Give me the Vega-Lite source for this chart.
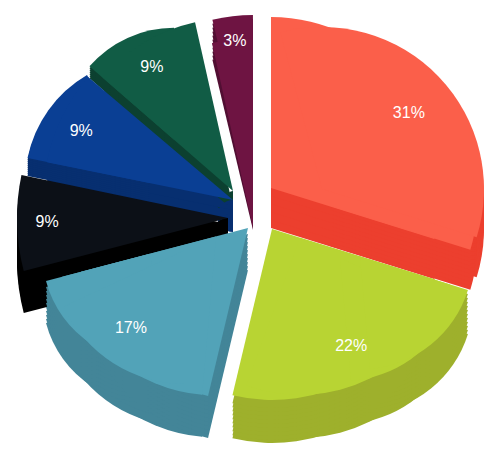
{
  "$schema": "https://vega.github.io/schema/vega-lite/v6.json",
  "width": 500,
  "height": 464,
  "padding": 0,
  "autosize": "none",
  "background": "white",
  "view": {"stroke": null},
  "data": {"values": [
    {"slice": "red", "rank": 1, "share": 31, "label": "31%"},
    {"slice": "lime", "rank": 2, "share": 22, "label": "22%"},
    {"slice": "teal", "rank": 3, "share": 17, "label": "17%"},
    {"slice": "black", "rank": 4, "share": 9, "label": "9%"},
    {"slice": "blue", "rank": 5, "share": 9, "label": "9%"},
    {"slice": "green", "rank": 6, "share": 9, "label": "9%"},
    {"slice": "purple", "rank": 7, "share": 3, "label": "3%"}
  ]},
  "transform": [
    {"stack": "share", "sort": [{"field": "rank", "order": "ascending"}], "as": ["a0", "a1"]},
    {"calculate": "(datum.a0 + datum.a1) / 2", "as": "mid"}
  ],
  "resolve": {"scale": {"theta": "independent"}},
  "layer": [
    {"transform": [{"filter": "datum.slice == 'red'"}],
     "encoding": {"theta": {"field": "a0", "type": "quantitative", "scale": {"domain": [0, 31], "range": [-0.26, 1.873]}}, "theta2": {"field": "a1"}},
     "layer": [
      {"mark": {"type": "arc", "outerRadius": 162, "xOffset": 72, "yOffset": -3, "fill": "#ec3f2e"}},
      {"mark": {"type": "arc", "outerRadius": 162, "xOffset": 72, "yOffset": -11, "fill": "#ec3f2e"}},
      {"mark": {"type": "arc", "outerRadius": 162, "xOffset": 72, "yOffset": -19, "fill": "#ec3f2e"}},
      {"mark": {"type": "arc", "outerRadius": 162, "xOffset": 72, "yOffset": -27, "fill": "#ec3f2e"}},
      {"mark": {"type": "arc", "outerRadius": 162, "xOffset": 72, "yOffset": -35, "fill": "#ec3f2e"}}
    ]},
    {"transform": [{"filter": "datum.slice == 'red'"}],
     "encoding": {"theta": {"field": "a0", "type": "quantitative", "scale": {"domain": [0, 31], "range": [0, 1.873]}}, "theta2": {"field": "a1"}},
     "layer": [
      {"mark": {"type": "arc", "outerRadius": 171, "xOffset": 21, "yOffset": -4, "fill": "#ec3f2e"}},
      {"mark": {"type": "arc", "outerRadius": 171, "xOffset": 21, "yOffset": -12, "fill": "#ec3f2e"}},
      {"mark": {"type": "arc", "outerRadius": 171, "xOffset": 21, "yOffset": -20, "fill": "#ec3f2e"}},
      {"mark": {"type": "arc", "outerRadius": 171, "xOffset": 21, "yOffset": -28, "fill": "#ec3f2e"}},
      {"mark": {"type": "arc", "outerRadius": 171, "xOffset": 21, "yOffset": -36, "fill": "#ec3f2e"}},
      {"mark": {"type": "arc", "outerRadius": 147, "xOffset": 80, "yOffset": 14, "fill": "#ec3f2e"}},
      {"mark": {"type": "arc", "outerRadius": 147, "xOffset": 80, "yOffset": 10, "fill": "#ec3f2e"}},
      {"mark": {"type": "arc", "outerRadius": 147, "xOffset": 80, "yOffset": 6, "fill": "#ec3f2e"}},
      {"mark": {"type": "arc", "outerRadius": 147, "xOffset": 80, "yOffset": 2, "fill": "#ec3f2e"}},
      {"mark": {"type": "arc", "outerRadius": 147, "xOffset": 80, "yOffset": -2, "fill": "#ec3f2e"}},
      {"mark": {"type": "arc", "outerRadius": 147, "xOffset": 80, "yOffset": -6, "fill": "#ec3f2e"}},
      {"mark": {"type": "arc", "outerRadius": 147, "xOffset": 80, "yOffset": -10, "fill": "#ec3f2e"}},
      {"mark": {"type": "arc", "outerRadius": 147, "xOffset": 80, "yOffset": -14, "fill": "#ec3f2e"}},
      {"mark": {"type": "arc", "outerRadius": 147, "xOffset": 80, "yOffset": -18, "fill": "#ec3f2e"}},
      {"mark": {"type": "arc", "outerRadius": 147, "xOffset": 80, "yOffset": -22, "fill": "#ec3f2e"}},
      {"mark": {"type": "arc", "outerRadius": 171, "xOffset": 21, "yOffset": -44, "fill": "#fb5f4a"}},
      {"mark": {"type": "arc", "outerRadius": 147, "xOffset": 80, "yOffset": -26, "fill": "#fb5f4a"}}
    ]},
    {"transform": [{"filter": "datum.slice == 'red'"}],
     "encoding": {"theta": {"field": "a0", "type": "quantitative", "scale": {"domain": [0, 31], "range": [-0.26, 1.873]}}, "theta2": {"field": "a1"}},
     "mark": {"type": "arc", "outerRadius": 162, "xOffset": 72, "yOffset": -43, "fill": "#fb5f4a"}},

    {"transform": [{"filter": "datum.slice == 'purple'"}],
     "encoding": {"theta": {"field": "a0", "type": "quantitative", "scale": {"domain": [97, 100], "range": [6.049, 6.283]}}, "theta2": {"field": "a1"}},
     "layer": [
      {"mark": {"type": "arc", "outerRadius": 175, "xOffset": 3, "yOffset": -2, "fill": "#520f33"}},
      {"mark": {"type": "arc", "outerRadius": 175, "xOffset": 3, "yOffset": -6, "fill": "#520f33"}},
      {"mark": {"type": "arc", "outerRadius": 175, "xOffset": 3, "yOffset": -10, "fill": "#520f33"}},
      {"mark": {"type": "arc", "outerRadius": 175, "xOffset": 3, "yOffset": -14, "fill": "#520f33"}},
      {"mark": {"type": "arc", "outerRadius": 175, "xOffset": 3, "yOffset": -18, "fill": "#520f33"}},
      {"mark": {"type": "arc", "outerRadius": 175, "xOffset": 3, "yOffset": -22, "fill": "#520f33"}},
      {"mark": {"type": "arc", "outerRadius": 175, "xOffset": 3, "yOffset": -26, "fill": "#520f33"}},
      {"mark": {"type": "arc", "outerRadius": 175, "xOffset": 3, "yOffset": -30, "fill": "#520f33"}},
      {"mark": {"type": "arc", "outerRadius": 175, "xOffset": 3, "yOffset": -34, "fill": "#520f33"}},
      {"mark": {"type": "arc", "outerRadius": 175, "xOffset": 3, "yOffset": -38, "fill": "#520f33"}},
      {"mark": {"type": "arc", "outerRadius": 175, "xOffset": 3, "yOffset": -42, "fill": "#6e1442"}}
    ]},
    {"transform": [{"filter": "datum.slice == 'purple'"}],
     "encoding": {"theta": {"field": "a0", "type": "quantitative", "scale": {"domain": [97, 100], "range": [6.065, 6.283]}}, "theta2": {"field": "a1"}},
     "mark": {"type": "arc", "outerRadius": 189.5, "xOffset": 3, "yOffset": -4, "fill": "#6e1442"}},

    {"transform": [{"filter": "datum.slice == 'green'"}], "mark": {"type": "arc", "outerRadius": 6, "xOffset": -17, "yOffset": -35, "fill": "#0c4030"},
     "encoding": {"theta": {"field": "a0", "type": "quantitative", "scale": {"domain": [88, 97], "range": [3.1416, 6.2832]}}, "theta2": {"field": "a1"}}},
    {"transform": [{"filter": "datum.slice == 'green'"}],
     "encoding": {"theta": {"field": "a0", "type": "quantitative", "scale": {"domain": [88, 97], "range": [5.428, 6.062]}}, "theta2": {"field": "a1"}},
     "layer": [
      {"mark": {"type": "arc", "outerRadius": 173, "xOffset": -17, "yOffset": -9, "fill": "#0c4030"}},
      {"mark": {"type": "arc", "outerRadius": 173, "xOffset": -17, "yOffset": -25, "fill": "#0c4030"}}
    ]},
    {"transform": [{"filter": "datum.slice == 'green'"}],
     "encoding": {"theta": {"field": "a0", "type": "quantitative", "scale": {"domain": [88, 97], "range": [5.428, 6.283]}}, "theta2": {"field": "a1"}},
     "layer": [
      {"mark": {"type": "arc", "outerRadius": 112, "xOffset": -76, "yOffset": -80.2, "fill": "#0c4030"}},
      {"mark": {"type": "arc", "outerRadius": 112, "xOffset": -76, "yOffset": -82.2, "fill": "#0c4030"}},
      {"mark": {"type": "arc", "outerRadius": 112, "xOffset": -76, "yOffset": -84.2, "fill": "#0c4030"}},
      {"mark": {"type": "arc", "outerRadius": 112, "xOffset": -76, "yOffset": -86.2, "fill": "#0c4030"}},
      {"mark": {"type": "arc", "outerRadius": 112, "xOffset": -76, "yOffset": -88.2, "fill": "#0c4030"}},
      {"mark": {"type": "arc", "outerRadius": 112, "xOffset": -76, "yOffset": -90.2, "fill": "#0c4030"}},
      {"mark": {"type": "arc", "outerRadius": 112, "xOffset": -76, "yOffset": -92.2, "fill": "#115c45"}}
    ]},
    {"transform": [{"filter": "datum.slice == 'green'"}],
     "encoding": {"theta": {"field": "a0", "type": "quantitative", "scale": {"domain": [88, 97], "range": [5.428, 6.062]}}, "theta2": {"field": "a1"}},
     "mark": {"type": "arc", "outerRadius": 173, "xOffset": -17, "yOffset": -41, "fill": "#115c45"}},

    {"transform": [{"filter": "datum.slice == 'blue'"}], "mark": {"type": "arc", "outerRadius": 16, "xOffset": -17, "yOffset": -16, "fill": "#072f70"},
     "encoding": {"theta": {"field": "a0", "type": "quantitative", "scale": {"domain": [79, 88], "range": [3.1416, 6.2832]}}, "theta2": {"field": "a1"}}},
    {"transform": [{"filter": "datum.slice == 'blue'"}],
     "encoding": {"theta": {"field": "a0", "type": "quantitative", "scale": {"domain": [79, 88], "range": [4.913, 5.416]}}, "theta2": {"field": "a1"}},
     "layer": [
      {"mark": {"type": "arc", "outerRadius": 190, "xOffset": -17, "yOffset": -12, "fill": "#072f70"}},
      {"mark": {"type": "arc", "outerRadius": 190, "xOffset": -17, "yOffset": -22, "fill": "#072f70"}}
    ]},
    {"transform": [{"filter": "datum.slice == 'blue'"}],
     "encoding": {"theta": {"field": "a0", "type": "quantitative", "scale": {"domain": [79, 88], "range": [4.913, 5.755]}}, "theta2": {"field": "a1"}},
     "layer": [
      {"mark": {"type": "arc", "outerRadius": 125, "xOffset": -100, "yOffset": -31, "fill": "#072f70"}},
      {"mark": {"type": "arc", "outerRadius": 125, "xOffset": -100, "yOffset": -33, "fill": "#072f70"}},
      {"mark": {"type": "arc", "outerRadius": 125, "xOffset": -100, "yOffset": -35, "fill": "#072f70"}},
      {"mark": {"type": "arc", "outerRadius": 125, "xOffset": -100, "yOffset": -37, "fill": "#072f70"}},
      {"mark": {"type": "arc", "outerRadius": 125, "xOffset": -100, "yOffset": -39, "fill": "#072f70"}},
      {"mark": {"type": "arc", "outerRadius": 125, "xOffset": -100, "yOffset": -41, "fill": "#072f70"}},
      {"mark": {"type": "arc", "outerRadius": 125, "xOffset": -100, "yOffset": -43, "fill": "#072f70"}},
      {"mark": {"type": "arc", "outerRadius": 125, "xOffset": -100, "yOffset": -45, "fill": "#072f70"}},
      {"mark": {"type": "arc", "outerRadius": 125, "xOffset": -100, "yOffset": -47, "fill": "#072f70"}},
      {"mark": {"type": "arc", "outerRadius": 125, "xOffset": -100, "yOffset": -49, "fill": "#0a3f94"}}
    ]},
    {"transform": [{"filter": "datum.slice == 'blue'"}],
     "encoding": {"theta": {"field": "a0", "type": "quantitative", "scale": {"domain": [79, 88], "range": [4.913, 5.416]}}, "theta2": {"field": "a1"}},
     "mark": {"type": "arc", "outerRadius": 190, "xOffset": -17, "yOffset": -32, "fill": "#0a3f94"}},

    {"transform": [{"filter": "datum.slice == 'black'"}], "mark": {"type": "arc", "outerRadius": 16, "xOffset": -22, "yOffset": 2, "fill": "#000000"},
     "encoding": {"theta": {"field": "a0", "type": "quantitative", "scale": {"domain": [70, 79], "range": [3.1416, 6.2832]}}, "theta2": {"field": "a1"}}},
    {"transform": [{"filter": "datum.slice == 'black'"}],
     "encoding": {"theta": {"field": "a0", "type": "quantitative", "scale": {"domain": [70, 79], "range": [4.459, 4.918]}}, "theta2": {"field": "a1"}},
     "layer": [
      {"mark": {"type": "arc", "outerRadius": 211, "xOffset": -22, "yOffset": 28, "fill": "#000000"}},
      {"mark": {"type": "arc", "outerRadius": 211, "xOffset": -22, "yOffset": 24, "fill": "#000000"}},
      {"mark": {"type": "arc", "outerRadius": 211, "xOffset": -22, "yOffset": 20, "fill": "#000000"}},
      {"mark": {"type": "arc", "outerRadius": 211, "xOffset": -22, "yOffset": 16, "fill": "#000000"}},
      {"mark": {"type": "arc", "outerRadius": 211, "xOffset": -22, "yOffset": 12, "fill": "#000000"}},
      {"mark": {"type": "arc", "outerRadius": 211, "xOffset": -22, "yOffset": 8, "fill": "#000000"}},
      {"mark": {"type": "arc", "outerRadius": 211, "xOffset": -22, "yOffset": 4, "fill": "#000000"}},
      {"mark": {"type": "arc", "outerRadius": 211, "xOffset": -22, "yOffset": 0, "fill": "#000000"}},
      {"mark": {"type": "arc", "outerRadius": 211, "xOffset": -22, "yOffset": -4, "fill": "#000000"}},
      {"mark": {"type": "arc", "outerRadius": 211, "xOffset": -22, "yOffset": -8, "fill": "#000000"}},
      {"mark": {"type": "arc", "outerRadius": 211, "xOffset": -22, "yOffset": -14, "fill": "#0c1017"}}
    ]},

    {"transform": [{"filter": "datum.slice == 'teal'"}],
     "encoding": {"theta": {"field": "a0", "type": "quantitative", "scale": {"domain": [53, 70], "range": [3.229, 4.456]}}, "theta2": {"field": "a1"}},
     "layer": [
      {"mark": {"type": "arc", "outerRadius": 159, "xOffset": -34, "yOffset": 46.4, "fill": "#438598"}},
      {"mark": {"type": "arc", "outerRadius": 159, "xOffset": -34, "yOffset": 36.4, "fill": "#438598"}},
      {"mark": {"type": "arc", "outerRadius": 159, "xOffset": -34, "yOffset": 28.4, "fill": "#438598"}},
      {"mark": {"type": "arc", "outerRadius": 159, "xOffset": -34, "yOffset": 20.4, "fill": "#438598"}},
      {"mark": {"type": "arc", "outerRadius": 159, "xOffset": -34, "yOffset": 12.4, "fill": "#438598"}}
    ]},
    {"transform": [{"filter": "datum.slice == 'teal'"}],
     "encoding": {"theta": {"field": "a0", "type": "quantitative", "scale": {"domain": [53, 70], "range": [3.1416, 4.276]}}, "theta2": {"field": "a1"}},
     "layer": [
      {"mark": {"type": "arc", "outerRadius": 134, "xOffset": -65, "yOffset": 60, "fill": "#438598"}},
      {"mark": {"type": "arc", "outerRadius": 134, "xOffset": -65, "yOffset": 52, "fill": "#438598"}},
      {"mark": {"type": "arc", "outerRadius": 134, "xOffset": -65, "yOffset": 44, "fill": "#438598"}},
      {"mark": {"type": "arc", "outerRadius": 134, "xOffset": -65, "yOffset": 36, "fill": "#438598"}},
      {"mark": {"type": "arc", "outerRadius": 134, "xOffset": -65, "yOffset": 28, "fill": "#438598"}}
    ]},
    {"transform": [{"filter": "datum.slice == 'teal'"}],
     "encoding": {"theta": {"field": "a0", "type": "quantitative", "scale": {"domain": [53, 70], "range": [2.967, 4.456]}}, "theta2": {"field": "a1"}},
     "layer": [
      {"mark": {"type": "arc", "outerRadius": 107.5, "xOffset": -100, "yOffset": 63.7, "fill": "#438598"}},
      {"mark": {"type": "arc", "outerRadius": 107.5, "xOffset": -100, "yOffset": 59.7, "fill": "#438598"}},
      {"mark": {"type": "arc", "outerRadius": 107.5, "xOffset": -100, "yOffset": 55.7, "fill": "#438598"}},
      {"mark": {"type": "arc", "outerRadius": 107.5, "xOffset": -100, "yOffset": 51.7, "fill": "#438598"}},
      {"mark": {"type": "arc", "outerRadius": 107.5, "xOffset": -100, "yOffset": 47.7, "fill": "#438598"}},
      {"mark": {"type": "arc", "outerRadius": 107.5, "xOffset": -100, "yOffset": 43.7, "fill": "#438598"}},
      {"mark": {"type": "arc", "outerRadius": 107.5, "xOffset": -100, "yOffset": 39.7, "fill": "#438598"}},
      {"mark": {"type": "arc", "outerRadius": 107.5, "xOffset": -100, "yOffset": 35.7, "fill": "#438598"}},
      {"mark": {"type": "arc", "outerRadius": 107.5, "xOffset": -100, "yOffset": 31.7, "fill": "#438598"}},
      {"mark": {"type": "arc", "outerRadius": 107.5, "xOffset": -100, "yOffset": 27.7, "fill": "#438598"}}
    ]},
    {"transform": [{"filter": "datum.slice == 'teal'"}],
     "encoding": {"theta": {"field": "a0", "type": "quantitative", "scale": {"domain": [53, 70], "range": [3.375, 4.456]}}, "theta2": {"field": "a1"}},
     "layer": [
      {"mark": {"type": "arc", "outerRadius": 172.7, "xOffset": -2, "yOffset": 38, "fill": "#438598"}},
      {"mark": {"type": "arc", "outerRadius": 172.7, "xOffset": -2, "yOffset": 34, "fill": "#438598"}},
      {"mark": {"type": "arc", "outerRadius": 172.7, "xOffset": -2, "yOffset": 30, "fill": "#438598"}},
      {"mark": {"type": "arc", "outerRadius": 172.7, "xOffset": -2, "yOffset": 26, "fill": "#438598"}},
      {"mark": {"type": "arc", "outerRadius": 172.7, "xOffset": -2, "yOffset": 22, "fill": "#438598"}},
      {"mark": {"type": "arc", "outerRadius": 172.7, "xOffset": -2, "yOffset": 18, "fill": "#438598"}},
      {"mark": {"type": "arc", "outerRadius": 172.7, "xOffset": -2, "yOffset": 14, "fill": "#438598"}},
      {"mark": {"type": "arc", "outerRadius": 172.7, "xOffset": -2, "yOffset": 10, "fill": "#438598"}},
      {"mark": {"type": "arc", "outerRadius": 172.7, "xOffset": -2, "yOffset": 6, "fill": "#438598"}},
      {"mark": {"type": "arc", "outerRadius": 172.7, "xOffset": -2, "yOffset": 2, "fill": "#438598"}},
      {"mark": {"type": "arc", "outerRadius": 172.7, "xOffset": -2, "yOffset": -4, "fill": "#52a3b8"}}
    ]},
    {"transform": [{"filter": "datum.slice == 'teal'"}],
     "encoding": {"theta": {"field": "a0", "type": "quantitative", "scale": {"domain": [53, 70], "range": [3.229, 4.456]}}, "theta2": {"field": "a1"}},
     "mark": {"type": "arc", "outerRadius": 159, "xOffset": -34, "yOffset": 4.4, "fill": "#52a3b8"}},
    {"transform": [{"filter": "datum.slice == 'teal'"}],
     "encoding": {"theta": {"field": "a0", "type": "quantitative", "scale": {"domain": [53, 70], "range": [2.967, 4.456]}}, "theta2": {"field": "a1"}},
     "mark": {"type": "arc", "outerRadius": 107.5, "xOffset": -100, "yOffset": 21.7, "fill": "#52a3b8"}},
    {"transform": [{"filter": "datum.slice == 'teal'"}],
     "encoding": {"theta": {"field": "a0", "type": "quantitative", "scale": {"domain": [53, 70], "range": [3.1416, 4.276]}}, "theta2": {"field": "a1"}},
     "mark": {"type": "arc", "outerRadius": 134, "xOffset": -65, "yOffset": 18, "fill": "#52a3b8"}},

    {"transform": [{"filter": "datum.slice == 'lime'"}],
     "encoding": {"theta": {"field": "a0", "type": "quantitative", "scale": {"domain": [31, 53], "range": [1.871, 3.49]}}, "theta2": {"field": "a1"}},
     "layer": [
      {"mark": {"type": "arc", "outerRadius": 157, "xOffset": 50, "yOffset": 49, "fill": "#9eb02c"}},
      {"mark": {"type": "arc", "outerRadius": 157, "xOffset": 50, "yOffset": 38, "fill": "#9eb02c"}},
      {"mark": {"type": "arc", "outerRadius": 157, "xOffset": 50, "yOffset": 30, "fill": "#9eb02c"}},
      {"mark": {"type": "arc", "outerRadius": 157, "xOffset": 50, "yOffset": 22, "fill": "#9eb02c"}},
      {"mark": {"type": "arc", "outerRadius": 157, "xOffset": 50, "yOffset": 14, "fill": "#9eb02c"}}
    ]},
    {"transform": [{"filter": "datum.slice == 'lime'"}],
     "encoding": {"theta": {"field": "a0", "type": "quantitative", "scale": {"domain": [31, 53], "range": [2.007, 3.054]}}, "theta2": {"field": "a1"}},
     "layer": [
      {"mark": {"type": "arc", "outerRadius": 123.5, "xOffset": 90, "yOffset": 69, "fill": "#9eb02c"}},
      {"mark": {"type": "arc", "outerRadius": 123.5, "xOffset": 90, "yOffset": 58, "fill": "#9eb02c"}},
      {"mark": {"type": "arc", "outerRadius": 123.5, "xOffset": 90, "yOffset": 50, "fill": "#9eb02c"}},
      {"mark": {"type": "arc", "outerRadius": 123.5, "xOffset": 90, "yOffset": 42, "fill": "#9eb02c"}},
      {"mark": {"type": "arc", "outerRadius": 123.5, "xOffset": 90, "yOffset": 34, "fill": "#9eb02c"}}
    ]},
    {"transform": [{"filter": "datum.slice == 'lime'"}],
     "encoding": {"theta": {"field": "a0", "type": "quantitative", "scale": {"domain": [31, 53], "range": [1.871, 3.054]}}, "theta2": {"field": "a1"}},
     "layer": [
      {"mark": {"type": "arc", "outerRadius": 113, "xOffset": 110, "yOffset": 68.5, "fill": "#9eb02c"}},
      {"mark": {"type": "arc", "outerRadius": 113, "xOffset": 110, "yOffset": 64.5, "fill": "#9eb02c"}},
      {"mark": {"type": "arc", "outerRadius": 113, "xOffset": 110, "yOffset": 60.5, "fill": "#9eb02c"}},
      {"mark": {"type": "arc", "outerRadius": 113, "xOffset": 110, "yOffset": 56.5, "fill": "#9eb02c"}},
      {"mark": {"type": "arc", "outerRadius": 113, "xOffset": 110, "yOffset": 52.5, "fill": "#9eb02c"}},
      {"mark": {"type": "arc", "outerRadius": 113, "xOffset": 110, "yOffset": 48.5, "fill": "#9eb02c"}},
      {"mark": {"type": "arc", "outerRadius": 113, "xOffset": 110, "yOffset": 44.5, "fill": "#9eb02c"}},
      {"mark": {"type": "arc", "outerRadius": 113, "xOffset": 110, "yOffset": 40.5, "fill": "#9eb02c"}},
      {"mark": {"type": "arc", "outerRadius": 113, "xOffset": 110, "yOffset": 36.5, "fill": "#9eb02c"}},
      {"mark": {"type": "arc", "outerRadius": 113, "xOffset": 110, "yOffset": 32.5, "fill": "#9eb02c"}},
      {"mark": {"type": "arc", "outerRadius": 113, "xOffset": 110, "yOffset": 28.5, "fill": "#9eb02c"}}
    ]},
    {"transform": [{"filter": "datum.slice == 'lime'"}],
     "encoding": {"theta": {"field": "a0", "type": "quantitative", "scale": {"domain": [31, 53], "range": [1.871, 3.375]}}, "theta2": {"field": "a1"}},
     "layer": [
      {"mark": {"type": "arc", "outerRadius": 171, "xOffset": 22, "yOffset": 40, "fill": "#9eb02c"}},
      {"mark": {"type": "arc", "outerRadius": 171, "xOffset": 22, "yOffset": 37, "fill": "#9eb02c"}},
      {"mark": {"type": "arc", "outerRadius": 171, "xOffset": 22, "yOffset": 33, "fill": "#9eb02c"}},
      {"mark": {"type": "arc", "outerRadius": 171, "xOffset": 22, "yOffset": 29, "fill": "#9eb02c"}},
      {"mark": {"type": "arc", "outerRadius": 171, "xOffset": 22, "yOffset": 25, "fill": "#9eb02c"}},
      {"mark": {"type": "arc", "outerRadius": 171, "xOffset": 22, "yOffset": 21, "fill": "#9eb02c"}},
      {"mark": {"type": "arc", "outerRadius": 171, "xOffset": 22, "yOffset": 17, "fill": "#9eb02c"}},
      {"mark": {"type": "arc", "outerRadius": 171, "xOffset": 22, "yOffset": 13, "fill": "#9eb02c"}},
      {"mark": {"type": "arc", "outerRadius": 171, "xOffset": 22, "yOffset": 9, "fill": "#9eb02c"}},
      {"mark": {"type": "arc", "outerRadius": 171, "xOffset": 22, "yOffset": 5, "fill": "#9eb02c"}},
      {"mark": {"type": "arc", "outerRadius": 171, "xOffset": 22, "yOffset": -3, "fill": "#b8d433"}}
    ]},
    {"transform": [{"filter": "datum.slice == 'lime'"}],
     "encoding": {"theta": {"field": "a0", "type": "quantitative", "scale": {"domain": [31, 53], "range": [1.871, 3.49]}}, "theta2": {"field": "a1"}},
     "mark": {"type": "arc", "outerRadius": 157, "xOffset": 50, "yOffset": 6, "fill": "#b8d433"}},
    {"transform": [{"filter": "datum.slice == 'lime'"}],
     "encoding": {"theta": {"field": "a0", "type": "quantitative", "scale": {"domain": [31, 53], "range": [2.007, 3.054]}}, "theta2": {"field": "a1"}},
     "mark": {"type": "arc", "outerRadius": 123.5, "xOffset": 90, "yOffset": 26, "fill": "#b8d433"}},
    {"transform": [{"filter": "datum.slice == 'lime'"}],
     "encoding": {"theta": {"field": "a0", "type": "quantitative", "scale": {"domain": [31, 53], "range": [1.871, 3.054]}}, "theta2": {"field": "a1"}},
     "mark": {"type": "arc", "outerRadius": 113, "xOffset": 110, "yOffset": 24.5, "fill": "#b8d433"}},

    {"transform": [{"filter": "datum.slice == 'red'"}], "mark": {"type": "text", "radius": 157, "xOffset": 29, "yOffset": -31, "font": "Liberation Sans", "fontSize": 16, "fill": "white"}, "encoding": {"theta": {"field": "mid", "type": "quantitative", "scale": {"domain": [0, 100]}}, "text": {"field": "label"}}},
    {"transform": [{"filter": "datum.slice == 'lime'"}], "mark": {"type": "text", "radius": 154, "xOffset": 27, "yOffset": -21, "font": "Liberation Sans", "fontSize": 16, "fill": "white"}, "encoding": {"theta": {"field": "mid", "type": "quantitative", "scale": {"domain": [0, 100]}}, "text": {"field": "label"}}},
    {"transform": [{"filter": "datum.slice == 'teal'"}], "mark": {"type": "text", "radius": 149, "xOffset": -20.5, "yOffset": -16, "font": "Liberation Sans", "fontSize": 16, "fill": "white"}, "encoding": {"theta": {"field": "mid", "type": "quantitative", "scale": {"domain": [0, 100]}}, "text": {"field": "label"}}},
    {"transform": [{"filter": "datum.slice == 'black'"}], "mark": {"type": "text", "radius": 181, "xOffset": -22, "yOffset": -16, "font": "Liberation Sans", "fontSize": 16, "fill": "white"}, "encoding": {"theta": {"field": "mid", "type": "quantitative", "scale": {"domain": [0, 100]}}, "text": {"field": "label"}}},
    {"transform": [{"filter": "datum.slice == 'blue'"}], "mark": {"type": "text", "radius": 167, "xOffset": -25, "yOffset": -16, "font": "Liberation Sans", "fontSize": 16, "fill": "white"}, "encoding": {"theta": {"field": "mid", "type": "quantitative", "scale": {"domain": [0, 100]}}, "text": {"field": "label"}}},
    {"transform": [{"filter": "datum.slice == 'green'"}], "mark": {"type": "text", "radius": 148, "xOffset": -31, "yOffset": -33, "font": "Liberation Sans", "fontSize": 16, "fill": "white"}, "encoding": {"theta": {"field": "mid", "type": "quantitative", "scale": {"domain": [0, 100]}}, "text": {"field": "label"}}},
    {"transform": [{"filter": "datum.slice == 'purple'"}], "mark": {"type": "text", "radius": 150, "xOffset": -1, "yOffset": -42, "font": "Liberation Sans", "fontSize": 16, "fill": "white"}, "encoding": {"theta": {"field": "mid", "type": "quantitative", "scale": {"domain": [0, 100]}}, "text": {"field": "label"}}}
  ]
}
